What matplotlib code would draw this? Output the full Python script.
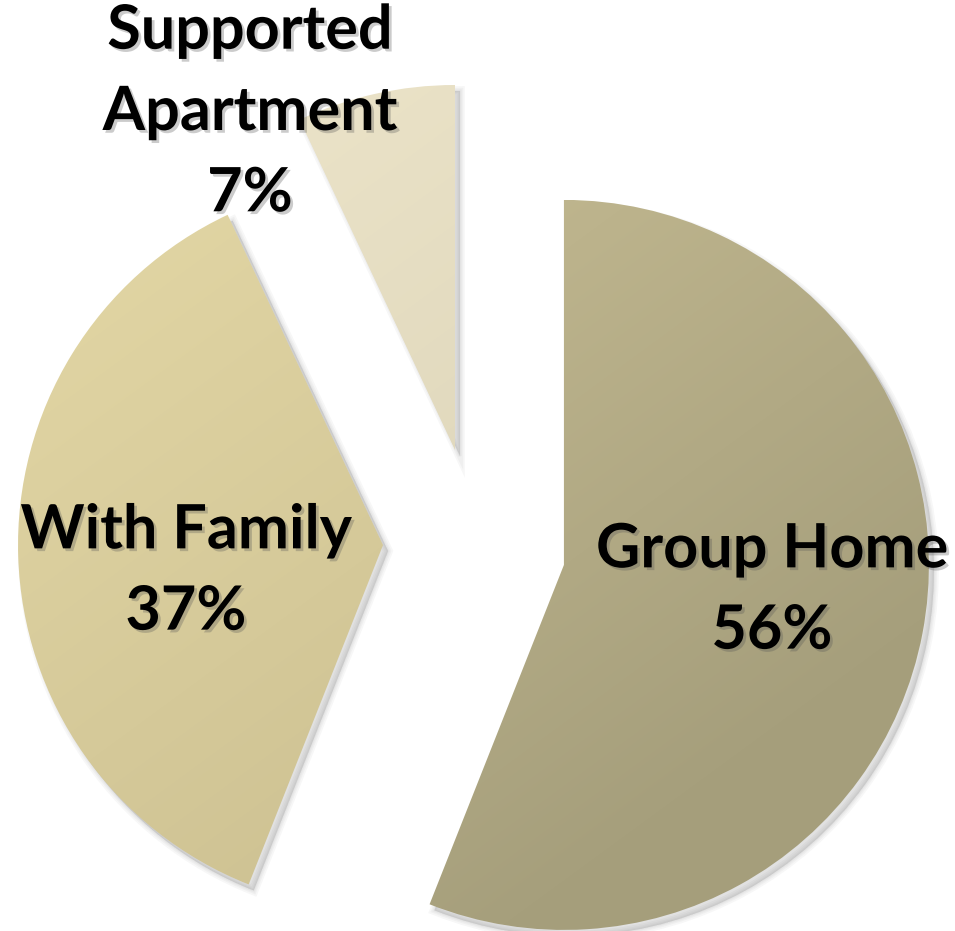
import numpy as np
import matplotlib.pyplot as plt
from matplotlib.patches import Wedge
import matplotlib.patheffects as pe

# living arrangements, share of people (%)
labels = ['Group Home', 'With Family', 'Supported\nApartment']
shares = [56, 37, 7]

# light / dark ends of each slice's gradient
light = ['#c7bd94', '#e4d8a6', '#eee6cb']
dark = ['#9b9574', '#c6ba8c', '#d5cdb1']

W, H = 955, 931
fig = plt.figure(figsize=(W / 100, H / 100), dpi=100)
ax = fig.add_axes([0, 0, 1, 1])

R = 365
wedges, _ = ax.pie(shares, radius=R, center=(449, 388), startangle=90,
                   counterclock=False, explode=[117, 66, 90],
                   wedgeprops=dict(linewidth=0), frame=True)
ax.set_aspect('equal')
ax.axis('off')
# the small slice sits further right than a plain radial explode puts it
wedges[2].set_center((455, 481))


def to_rgb(c):
    c = c.lstrip('#')
    return np.array([int(c[i:i + 2], 16) / 255 for i in (0, 2, 4)])


for w, lo, hi in zip(wedges, light, dark):
    cx, cy = w.center
    t1, t2 = w.theta1, w.theta2
    # soft drop shadow: stacked translucent copies, wider ones fainter
    for lw in [7, 4.5, 2.5, 1]:
        ax.add_patch(Wedge((cx + 5, cy - 6), R, t1, t2, facecolor='#666666',
                           edgecolor='#666666', linewidth=lw, alpha=0.05,
                           zorder=1))
    w.set_facecolor('none')
    w.set_zorder(3)
    # diagonal gradient, light top-left to dark bottom-right
    n = 200
    gx, gy = np.meshgrid(np.linspace(0, 1, n), np.linspace(0, 1, n))
    f = np.clip(0.55 * gx + 0.75 * (1 - gy), 0, 1)[..., None] / 1.3
    img = to_rgb(lo) * (1 - f) + to_rgb(hi) * f
    im = ax.imshow(img, extent=(cx - R, cx + R, cy - R, cy + R),
                   origin='lower', zorder=2, interpolation='bilinear')
    im.set_clip_path(w)

ax.set_xlim(0, W)
ax.set_ylim(0, H)

shadow = [pe.withSimplePatchShadow(offset=(2, -2), shadow_rgbFace='#555555',
                                   alpha=0.3)]
txt = dict(fontsize=44, fontweight='bold', family='Lato', ha='center',
           va='center', color='black', zorder=5, linespacing=1.55,
           path_effects=shadow)

ax.text(772, H - 590, f'{labels[0]}\n{shares[0]}%', **txt)
ax.text(186, H - 571, f'{labels[1]}\n{shares[1]}%', **txt)
ax.text(250, H - 112, f'{labels[2]}\n{shares[2]}%', **txt)

fig.savefig('out.png', dpi=100)
